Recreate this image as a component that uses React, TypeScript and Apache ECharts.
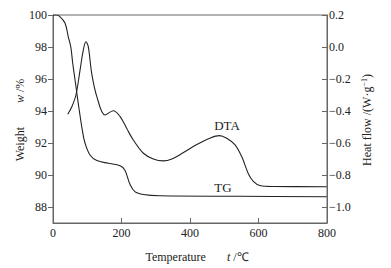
import React, { useEffect, useRef } from "react";
import * as echarts from "echarts";

const tgTemp = [0, 10, 20, 35, 45, 52, 57.5, 64, 71, 77, 85.6, 93.4, 108, 128, 161, 196, 210, 225, 239, 264, 312, 546, 799];
const tgWeight = [100, 100, 99.9, 99.5, 98.6, 98.0, 97.0, 96.0, 94.9, 94.0, 92.8, 92.0, 91.25, 90.9, 90.73, 90.58, 90.3, 89.4, 88.96, 88.78, 88.7, 88.67, 88.64];

const dtaTemp = [43, 55, 67, 79, 88.5, 96, 103, 113, 128, 152, 176, 196, 215, 234, 264, 293, 322, 347, 381, 420, 458, 486, 507, 531, 551, 570, 585, 604, 643, 799];
const dtaHeat = [-0.42, -0.373, -0.3, -0.144, -0.019, 0.033, 0.002, -0.165, -0.31, -0.425, -0.398, -0.435, -0.508, -0.58, -0.664, -0.7, -0.712, -0.7, -0.66, -0.61, -0.57, -0.554, -0.57, -0.61, -0.685, -0.79, -0.84, -0.866, -0.872, -0.873];

const weightTicks = [88, 90, 92, 94, 96, 98, 100];
const heatTicks = [-1.0, -0.8, -0.6, -0.4, -0.2, 0.0, 0.2];

const FONT = "Liberation Serif";
const TXT = "#222";
const AX = "#666";

export default function App() {
  const ref = useRef<HTMLDivElement>(null);
  useEffect(() => {
    document.body.style.margin = "0";
    const chart = echarts.init(ref.current!, null, { renderer: "svg" });
    chart.setOption({
      animation: false,
      backgroundColor: "#fff",
      textStyle: { fontFamily: FONT },
      grid: { left: 53, right: 64, top: 15, bottom: 45, show: true, borderColor: AX, borderWidth: 1, backgroundColor: "transparent" },
      xAxis: {
        type: "value", min: 0, max: 800, interval: 200,
        axisLine: { onZero: false, lineStyle: { color: AX } },
        axisTick: { inside: true, length: 5, lineStyle: { color: AX } },
        axisLabel: { color: TXT, fontSize: 12, fontFamily: FONT, margin: 4 },
        splitLine: { show: false },
      },
      yAxis: [
        {
          type: "value", min: 87, max: 100, position: "left",
          axisLine: { show: true, onZero: false, lineStyle: { color: AX } },
          axisTick: { show: true, inside: false, length: 5, customValues: weightTicks, lineStyle: { color: AX } },
          axisLabel: { color: TXT, fontSize: 12, fontFamily: FONT, margin: 6, customValues: weightTicks },
          splitLine: { show: false },
        },
        {
          type: "value", min: -1.1, max: 0.2, position: "right",
          axisLine: { show: true, onZero: false, lineStyle: { color: AX } },
          axisTick: { show: true, inside: true, length: 5, customValues: heatTicks, lineStyle: { color: AX } },
          axisLabel: {
            color: TXT, fontSize: 12, fontFamily: FONT, margin: 2, customValues: heatTicks,
            formatter: (v: number) => v.toFixed(1).replace("-", "\u2212").replace("\u22120.0", "0.0"),
          },
          splitLine: { show: false },
        },
      ],
      series: [
        {
          type: "line", name: "TG", yAxisIndex: 0, smooth: 0.35, symbol: "none",
          lineStyle: { color: "#222", width: 1.1 },
          data: tgTemp.map((t, i) => [t, tgWeight[i]]),
        },
        {
          type: "line", name: "DTA", yAxisIndex: 1, smooth: 0.35, symbol: "none",
          lineStyle: { color: "#222", width: 1.1 },
          data: dtaTemp.map((t, i) => [t, dtaHeat[i]]),
        },
      ],
      graphic: [
        { type: "text", x: 227, y: 125, style: { text: "DTA", font: `13px "${FONT}"`, fill: TXT, align: "center", verticalAlign: "middle" } },
        { type: "text", x: 223, y: 187, style: { text: "TG", font: `13px "${FONT}"`, fill: TXT, align: "center", verticalAlign: "middle" } },
        {
          type: "text", x: 197, y: 257,
          style: {
            text: "{a|Temperature}       {b|t} /℃",
            rich: {
              a: { fontFamily: FONT, fontSize: 12, fill: TXT },
              b: { fontFamily: FONT, fontSize: 12, fontStyle: "italic", fill: TXT },
            },
            fontFamily: FONT, fontSize: 12, fill: TXT, align: "center", verticalAlign: "middle",
          },
        },
        {
          type: "text", x: 20, y: 120, rotation: Math.PI / 2,
          style: {
            text: "{a|Weight}        {b|w} /%",
            rich: {
              a: { fontFamily: FONT, fontSize: 12, fill: TXT },
              b: { fontFamily: FONT, fontSize: 12, fontStyle: "italic", fill: TXT },
            },
            fontFamily: FONT, fontSize: 12, fill: TXT, align: "center", verticalAlign: "middle",
          },
        },
        {
          type: "text", x: 367, y: 120, rotation: Math.PI / 2,
          style: {
            text: "{a|Heat flow /(W·g}{s|−1}{a|)}",
            rich: {
              a: { fontFamily: FONT, fontSize: 12, fill: TXT },
              s: { fontFamily: FONT, fontSize: 8, fill: TXT, verticalAlign: "top", padding: [0, 0, 6, 0] },
            },
            fontFamily: FONT, fontSize: 12, fill: TXT, align: "center", verticalAlign: "middle",
          },
        },
      ],
    });
    return () => chart.dispose();
  }, []);
  return <div ref={ref} style={{ width: 391, height: 268 }} />;
}
